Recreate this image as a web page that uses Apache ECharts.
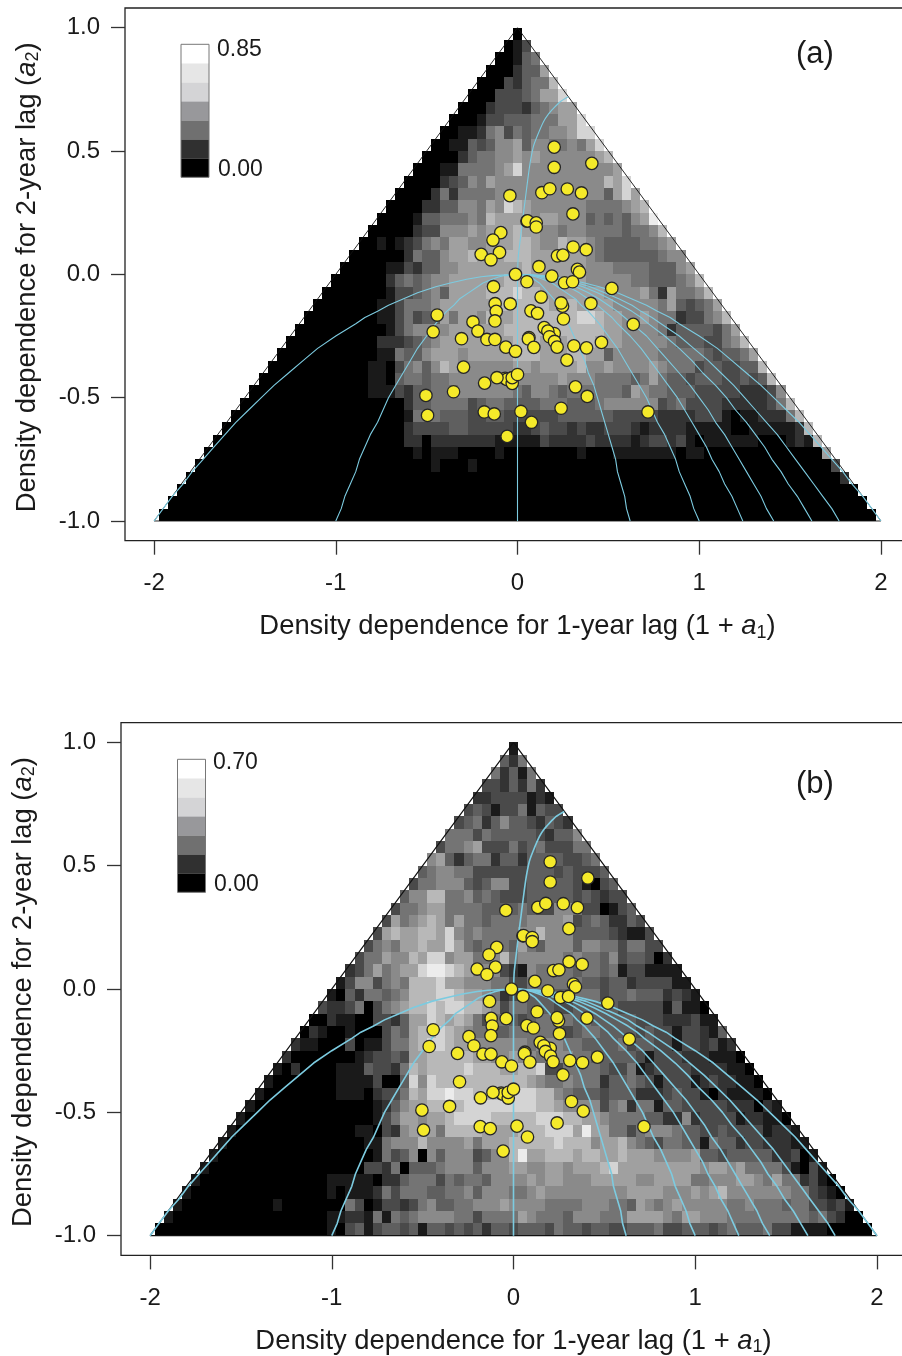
<!DOCTYPE html>
<html>
<head>
<meta charset="utf-8">
<style>html,body{margin:0;padding:0;background:#fff;overflow:hidden}#chart{width:902px;height:1356px}</style>
<script src="https://cdn.jsdelivr.net/npm/echarts@6/dist/echarts.min.js"></script>
</head>
<body>
<div id="chart"></div>
<script>
const rowsA = [
'|0','0|13','00|145','000|2447','0003|24558','00033|345779','000233|3245677','0001334|44555779',
'00112563|545566799','001143466|7466556579','0000245566|76766666678','00011555567|966666666667',
'000023465766|6666666666879','0000252555566|66666666664797','00002244665769|876666665555678',
'000014455565877|776776664545467a','0000023366676777|87766566555545568','00101235657766777|887668776544445567',
'000000254467787778|8877777765444444566','0000011324466777777|78777777666555544467',
'00000024545667777778|887777776666655444568','000000013345647777888|9887777777666675275568',
'0000000113555677777788|88887787777666665743457','00000000113534475776877|888888899877667655233568',
'000000000013566667777778|8888888888776666524444357','0000000000222345677777777|88877788877766666544433568',
'00000000000115446777677777|888777887746666655555434457','000000000001103564687666666|7767777866766667655534433448',
'0000000000001104554556666667|66666766655554575443444334348','00000000000001113244555666666|546654555555476554443333322236',
'000000000000000000244555534554|4445554445666666345333322222358','0000000000000000000155544433443|33333444444333332222333101122258',
'00000000000000000000233334433333|223433232233321222211111001111128','0000000000000000000000220222222211|1113222232222123323101111110001218',
'0000000000000000000000010111000010|00000001000111111101100000000000007','00000000000000000000000000100010000|000000000000000000000000000000000003',
'000000000000000000000000000000000000|0000000000000000000000000000000000002','0000000000000000000000000000000000000|00000000000000000000000000000000000000',
'00000000000000000000000000000000000000|000000000000000000000000000000000000000','000000000000000000000000000000000000000|0000000000000000000000000000000000000000'
];
const rowsB = [
'|1','4|25','52|415','332|4252','2233|33121','34313|351433','345246|4432432','5553544|44432446',
'35567333|534533355','674245524|4244443345','4566553333|33444343334','35566643466|334444431034',
'466885564543|3344444343233','3556775555444|45433665330134','37567875755455|556666734542243',
'378778879656555|5668666444432113','3565778779754555|47546664665535533','35576687996775568|566666565546344302',
'235756779aa9876663|2165555455451331111','1366356588897766655|33555555443442333311',
'10425545688899877652|334444455534454442321','322350356788989988763|5544433444443333314110',
'0021100332477987875355|43455454544444333222311','02100100035478898765544|555555345544443433133214',
'211000301135578998776666|6656665544445344331332312','2000000012334377888887766|76655665544444313332221110',
'10200001114332587888898887|788933555543351233332222110','100000001111300496988888888|8876556555244543133312322110',
'100000000111023358799a998889|99988654443444222343310211110','10000000000000124677888899999|999887666635625514433333222021',
'100000000000000135776778999988|8889998877655554422623333122110','1000000000000011032677758888777|78889997a77553566654433433331221',
'10000000000000001156668666675777|888889888677865435544154423322211','100000000000000000153460646663466|8a77888788778777666674434444422301',
'1000000000000000003325044456664666|77667767778977777777767767555531031','10000000000000011111022455535455466|667677666777776677775566677657 55231',
'100000000000000010111253555445564666|5567666666666777766676786666666553210','1000000000010000000530133235644556667|66665555666554765676666655655545 5332 3110',
'10000000000000000011221515456666553555|576555466655577776577666555555555453200','000000000000000000010341344341443434244|3444354434433444533444345444533 11110 0000'
].map(r => r.replace(/ /g, ''));

const shades = ['#000000','#1a1a1a','#333333','#4a4a4a','#5f5f5f','#747474','#8a8a8a','#a0a0a0','#b8b8b8','#d4d4d4','#ececec'];

// estimated data points, same in both panels
const pointsX = [-.042,.052,-.092,-.135,-.2,-.099,-.146,-.011,.202,.202,.409,.134,.178,.274,.352,.305,.055,.103,.103,.306,.378,.22,.25,.118,.052,.189,.33,.341,.259,.303,.519,.13,.404,.248,.24,-.04,.074,.11,.253,.637,.147,.202,.167,.176,.063,.06,.204,.218,.09,-.064,-.011,.31,.38,.462,.272,.319,.384,-.068,-.059,-.029,-.029,0,-.113,.24,.019,.077,.718,-.057,-.132,-.123,-.117,-.124,-.442,-.464,-.245,-.218,-.168,-.124,-.308,-.297,-.181,-.352,-.504,-.495,-.183,-.128];
const pointsY = [.319,.216,.169,.139,.081,.089,.059,0,.516,.434,.45,.331,.347,.346,.33,.245,.217,.209,.192,.111,.1,.075,.078,.031,-.03,-.007,.02,.009,-.034,-.03,-.057,-.092,-.118,-.129,-.116,-.12,-.148,-.158,-.181,-.203,-.216,-.24,-.23,-.253,-.256,-.262,-.272,-.295,-.296,-.295,-.312,-.29,-.298,-.276,-.348,-.456,-.495,-.422,-.426,-.442,-.419,-.406,-.419,-.543,-.556,-.6,-.558,-.657,-.05,-.119,-.15,-.189,-.165,-.233,-.193,-.23,-.264,-.264,-.261,-.376,-.441,-.476,-.491,-.572,-.558,-.566];

// pale blue guide curves
const curveY = [0,-.005,-.01,-.02,-.035,-.05,-.075,-.1,-.125,-.15,-.175,-.2,-.25,-.3,-.35,-.4,-.45,-.5,-.55,-.6,-.65,-.7,-.75,-.8,-.85,-.9,-.95,-1];
const curveA = [0,-.14,-.2,-.28,-.37,-.45,-.55,-.63,-.71,-.77,-.84,-.89,-1,-1.1,-1.18,-1.26,-1.34,-1.41,-1.48,-1.55,-1.61,-1.67,-1.73,-1.79,-1.84,-1.9,-1.95,-2];
const curveB = [0,-.07,-.1,-.14,-.19,-.22,-.27,-.32,-.35,-.39,-.42,-.45,-.5,-.55,-.59,-.63,-.67,-.71,-.74,-.77,-.81,-.84,-.87,-.89,-.92,-.95,-.97,-1];
const curveC = [0,0,0,0,0,0,0,0,0,0,0,0,0,0,0,0,0,0,0,0,0,0,0,0,0,0,0,0];
const curveD = [0,.04,.06,.09,.12,.14,.17,.2,.22,.24,.26,.28,.31,.34,.37,.39,.42,.44,.46,.48,.5,.52,.54,.55,.57,.59,.6,.62];
const curveE = [0,.07,.1,.14,.19,.22,.27,.32,.35,.39,.42,.45,.5,.55,.59,.63,.67,.71,.74,.77,.81,.84,.87,.89,.92,.95,.97,1];
const curveF = [0,.09,.12,.17,.23,.28,.34,.39,.44,.48,.52,.55,.62,.68,.73,.78,.83,.88,.92,.96,1,1.04,1.07,1.11,1.14,1.18,1.21,1.24];
const curveG = [0,.1,.14,.2,.26,.32,.39,.45,.5,.55,.59,.63,.71,.77,.83,.89,.95,1,1.05,1.09,1.14,1.18,1.22,1.26,1.3,1.34,1.37,1.41];
const curveH = [0,.11,.16,.23,.3,.36,.44,.51,.57,.63,.68,.72,.81,.89,.96,1.02,1.09,1.15,1.2,1.26,1.31,1.36,1.4,1.45,1.49,1.54,1.58,1.62];
const curveI = [0,.13,.18,.25,.33,.4,.48,.56,.63,.68,.74,.79,.89,.97,1.05,1.12,1.19,1.25,1.31,1.37,1.43,1.48,1.53,1.58,1.63,1.68,1.73,1.77];
const curveJ = [0,.14,.2,.28,.37,.45,.55,.63,.71,.77,.84,.89,1,1.1,1.18,1.26,1.34,1.41,1.48,1.55,1.61,1.67,1.73,1.79,1.84,1.9,1.95,2];
const lowerCurves = [curveA,curveB,curveC,curveD,curveE,curveF,curveG,curveH,curveI,curveJ];
const upperCurveX = [0,.004,.015,.028,.042,.066,.087,.107,.143,.17,.198,.235,.279];
const upperCurveY = [0,.07,.14,.22,.3,.436,.517,.558,.619,.65,.673,.7,.72];

const triangleX = [-2,0,2,-2];
const triangleY = [-1,1,-1,-1];

const xTicks = [-2,-1,0,1,2];
const yTicks = [-1,-.5,0,.5,1];
const legendShades = ['#000000','#303030','#707070','#98989b','#d4d4d6','#e6e6e6','#ffffff'];
const legendFrameX = [0,1,1,0,0];
const legendFrameY = [0,0,7,7,0];

const FONT = '"Liberation Sans", Arial, sans-serif';
const INK = '#1a1a1a';
const FS = 24;
const TITLE_FS = 27.4;

function cellsFrom(rows) {
    const cells = [];
    rows.forEach((row, i) => {
        const parts = row.split('|');
        const left = parts[0].padStart(i, '0');
        const right = parts[1].padEnd(i + 1, '0');
        for (let k = -i; k <= i; k++) {
            const ch = k < 0 ? left[left.length + k] : right[k];
            cells.push([k * 0.05, 0.975 - i * 0.05, parseInt(ch, 16)]);
        }
    });
    return cells;
}

function renderCell(params, api) {
    const x = api.value(0), y = api.value(1);
    const p0 = api.coord([x - 0.025, y + 0.025]).map(Math.round);
    const p1 = api.coord([x + 0.025, y - 0.025]).map(Math.round);
    return {
        type: 'rect',
        shape: { x: p0[0], y: p0[1], width: p1[0] - p0[0], height: p1[1] - p0[1] },
        style: { fill: shades[api.value(2)] }
    };
}

function renderBand(params, api) {
    const p0 = api.coord([0, api.value(0) + 1]);
    const p1 = api.coord([1, api.value(0)]);
    return {
        type: 'rect',
        shape: { x: p0[0], y: p0[1], width: p1[0] - p0[0], height: p1[1] - p0[1] },
        style: { fill: legendShades[api.value(0)] }
    };
}

const titleRich = {
    n: { fontSize: TITLE_FS, fontFamily: FONT, color: INK },
    i: { fontSize: TITLE_FS, fontFamily: FONT, color: INK, fontStyle: 'italic' },
    s: { fontSize: 18, fontFamily: FONT, color: INK, verticalAlign: 'bottom', lineHeight: 30 }
};

function panel(idx, box, rows, lineW) {
    const grid = { left: box.left, top: box.top, width: 785, height: 532.7, show: true, borderColor: '#222', borderWidth: 1.3, backgroundColor: 'transparent', outerBoundsMode: 'none' };
    const xAxis = {
        gridIndex: idx, type: 'value', min: -2.16, max: 2.16, position: 'bottom',
        name: '{n|Density dependence for 1-year lag (1 + }{i|a}{s|1}{n|)}',
        nameLocation: 'middle', nameGap: 71, nameTextStyle: { rich: titleRich },
        axisLine: { show: false, onZero: false }, splitLine: { show: false },
        axisTick: { show: true, customValues: xTicks, length: 14, lineStyle: { color: '#333', width: 1.3 } },
        axisLabel: { customValues: xTicks, margin: 31, fontSize: FS, fontFamily: FONT, color: INK, formatter: v => String(v) }
    };
    const yAxis = {
        gridIndex: idx, type: 'value', min: -1.08, max: 1.08, position: 'left',
        name: '{n|Density dependence for 2-year lag (}{i|a}{s|2}{n|)}',
        nameLocation: 'middle', nameGap: 83, nameRotate: 90, nameTextStyle: { rich: titleRich, padding: [0, 6, 0, 0] },
        axisLine: { show: false, onZero: false }, splitLine: { show: false },
        axisTick: { show: true, customValues: yTicks, length: 14, lineStyle: { color: '#333', width: 1.3 } },
        axisLabel: { customValues: yTicks, margin: 25, fontSize: FS, fontFamily: FONT, color: INK, formatter: v => v.toFixed(1) }
    };
    const series = [
        { type: 'custom', xAxisIndex: idx, yAxisIndex: idx, renderItem: renderCell, data: cellsFrom(rows), encode: { x: 0, y: 1 }, silent: true, z: 1, clip: false },
        { type: 'line', xAxisIndex: idx, yAxisIndex: idx, data: triangleX.map((x, i) => [x, triangleY[i]]), symbol: 'none', silent: true, z: 2, lineStyle: { color: '#111', width: lineW.tri } }
    ];
    lowerCurves.forEach(c => {
        series.push({ type: 'line', xAxisIndex: idx, yAxisIndex: idx, data: c.map((x, i) => [x, curveY[i]]), symbol: 'none', silent: true, z: 3, lineStyle: { color: '#7ccbe0', width: lineW.curve } });
    });
    series.push({ type: 'line', xAxisIndex: idx, yAxisIndex: idx, data: upperCurveX.map((x, i) => [x, upperCurveY[i]]), symbol: 'none', smooth: 0.2, silent: true, z: 3, lineStyle: { color: '#7ccbe0', width: lineW.curve } });
    series.push({ type: 'scatter', xAxisIndex: idx, yAxisIndex: idx, data: pointsX.map((x, i) => [x, pointsY[i]]), symbolSize: 12.4, silent: true, z: 4, itemStyle: { color: '#f5ea2a', borderColor: '#262626', borderWidth: 1.3, opacity: 1 } });
    return { grid, xAxis, yAxis, series };
}

function legendParts(idx, box) {
    const bands = legendShades.map((c, i) => [i]);
    return {
        grid: { left: box.left, top: box.top, width: 28, height: 133, outerBoundsMode: 'none' },
        xAxis: { gridIndex: idx, type: 'value', min: 0, max: 1, show: false },
        yAxis: { gridIndex: idx, type: 'value', min: 0, max: 7, show: false },
        series: [
            { type: 'custom', xAxisIndex: idx, yAxisIndex: idx, renderItem: renderBand, data: bands, encode: { y: 0 }, silent: true, z: 5 },
            { type: 'line', xAxisIndex: idx, yAxisIndex: idx, data: legendFrameX.map((x, i) => [x, legendFrameY[i]]), symbol: 'none', silent: true, z: 6, clip: false, lineStyle: { color: '#777', width: 1 } }
        ]
    };
}

function label(text, x, y, size) {
    return { type: 'text', x: x, y: y, silent: true, z: 10, style: { text: text, fontSize: size, fontFamily: FONT, fill: INK, verticalAlign: 'middle' } };
}

const parts = [
    panel(0, { left: 125, top: 8 }, rowsA, { tri: 0.9, curve: 1.1 }),
    panel(1, { left: 121, top: 722.7 }, rowsB, { tri: 1.2, curve: 1.6 }),
    legendParts(2, { left: 181, top: 44.3 }),
    legendParts(3, { left: 177.5, top: 759.3 })
];

const chart = echarts.init(document.getElementById('chart'), null, { renderer: 'canvas' });
chart.setOption({
    animation: false,
    backgroundColor: '#ffffff',
    textStyle: { fontFamily: FONT },
    grid: parts.map(p => p.grid),
    xAxis: parts.map(p => p.xAxis),
    yAxis: parts.map(p => p.yAxis),
    series: parts.flatMap(p => p.series),
    graphic: [
        label('0.85', 217, 50, 23), label('0.00', 218, 170, 23),
        label('0.70', 213, 763, 23), label('0.00', 214, 885, 23),
        label('(a)', 796, 54, 31), label('(b)', 796, 784, 31)
    ]
});
</script>
</body>
</html>
